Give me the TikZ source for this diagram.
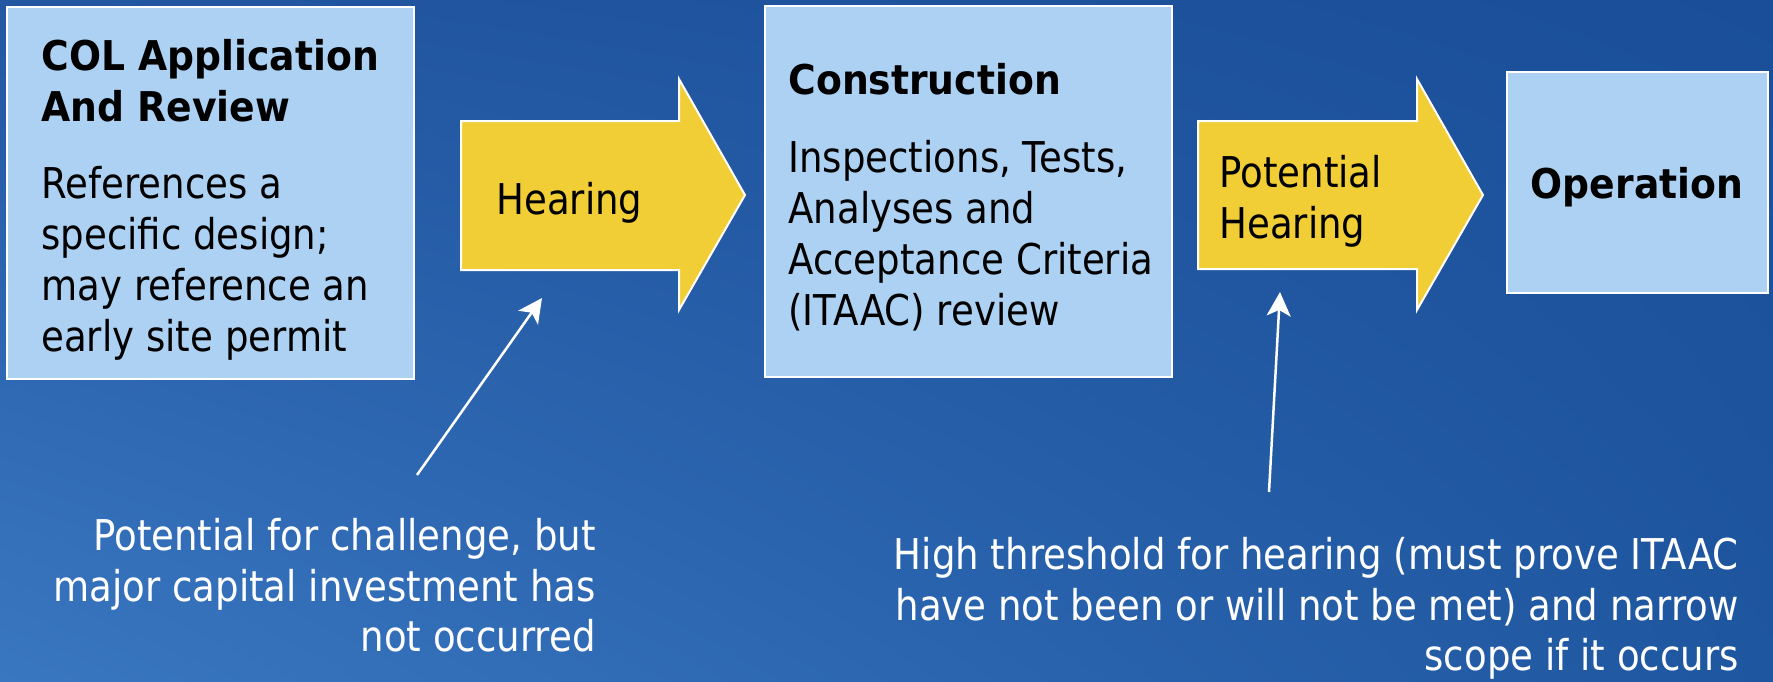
\documentclass[tikz,border=0pt]{standalone}
\usepackage{fontspec}
\setmainfont{DejaVu Sans}[FakeStretch=0.875]
\newfontfamily\ttlfont{DejaVu Sans}[FakeStretch=0.92]
\usetikzlibrary{arrows.meta,shadings}
\definecolor{boxfill}{HTML}{ADD1F2}
\definecolor{arrfill}{HTML}{F2CE36}
\definecolor{bgUL}{HTML}{2357A2}
\definecolor{bgUR}{HTML}{1A4E98}
\definecolor{bgLL}{HTML}{3A77C1}
\definecolor{bgLR}{HTML}{1F56A0}
\tikzset{
  stagebox/.style={draw=white, line width=1pt, fill=boxfill, inner sep=0pt},
  yarrow/.style={draw=white, line width=1pt, fill=arrfill, line join=miter},
  txt/.style={inner sep=0pt, font=\fontsize{21.2pt}{25.5pt}\selectfont, align=left},
  ttl/.style={inner sep=0pt, font=\fontsize{20.5pt}{25.5pt}\selectfont\ttlfont\bfseries, align=left},
  wtxt/.style={inner sep=0pt, font=\fontsize{21.2pt}{25.2pt}\selectfont, align=right, text=white},
  pointer/.style={draw=white, line width=1.25pt, -{Stealth[length=12pt,width=12pt,inset=3pt]}}
}
\begin{document}
\begin{tikzpicture}[x=0.5pt,y=-0.5pt]
\useasboundingbox (0,0) rectangle (1773,681);
\shade[upper left=bgUL, upper right=bgUR, lower left=bgLL, lower right=bgLR] (0,0) rectangle (1773,681);

% stage boxes
\node[stagebox, minimum width=203.5pt, minimum height=186pt] (col) at (210.5,193) {};
\node[stagebox, minimum width=203.5pt, minimum height=185.5pt] (cons) at (968.5,191.5) {};
\node[stagebox, minimum width=130.5pt, minimum height=110.5pt] (oper) at (1637.5,182.5) {};

% yellow block arrows
\draw[yarrow] (461,121) -- (679,121) -- (679,79) -- (745,195) -- (679,310) -- (679,270) -- (461,270) -- cycle;
\draw[yarrow] (1198,121) -- (1417,121) -- (1417,79) -- (1483,195) -- (1417,310) -- (1417,269) -- (1198,269) -- cycle;

% texts in boxes
\node[ttl, anchor=north west] (colt) at (41,39) {COL Application\\And Review};
\node[txt, anchor=north west] (colb) at (41,166) {References a\\specific design;\\may reference an\\early site permit};
\node[ttl, anchor=north west] (const) at (788,63) {Construction};
\node[txt, anchor=north west] (consb) at (788,140) {Inspections, Tests,\\Analyses and\\Acceptance Criteria\\(ITAAC) review};
\node[ttl, anchor=base] (opert) at (1637,198) {Operation};
\node[txt, anchor=base west] (hear) at (496,214) {Hearing};
\node[txt, anchor=north west] (phear) at (1219,155) {Potential\\Hearing};

% bottom notes
\node[wtxt, anchor=north east] (note1) at (596,518) {Potential for challenge, but\\major capital investment has\\not occurred};
\node[wtxt, anchor=north east] (note2) at (1739,537) {High threshold for hearing (must prove ITAAC\\have not been or will not be met) and narrow\\scope if it occurs};

% pointer arrows
\coordinate (p1s) at (417,475);
\coordinate (p1e) at (542,298);
\coordinate (p2s) at (1269,492);
\coordinate (p2e) at (1280,292);
\draw[pointer] (p1s) -- (p1e);
\draw[pointer] (p2s) -- (p2e);
\end{tikzpicture}
\end{document}
